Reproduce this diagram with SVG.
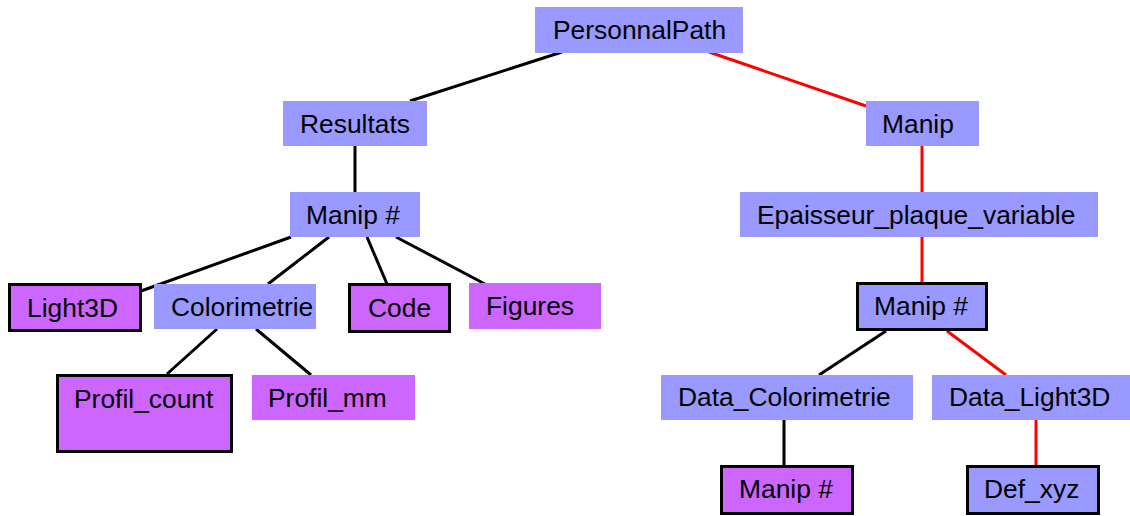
<svg xmlns="http://www.w3.org/2000/svg" width="1130" height="516" viewBox="0 0 1130 516">
<style>
.b{fill:#9999ff}
.p{fill:#cc66ff}
.k{stroke:#000;stroke-width:3}
.e{stroke-width:3;fill:none}
.e line.bk{stroke:#000}
.e line.rd{stroke:#ff0000}
text{font-family:"Liberation Sans",Arial,sans-serif;font-size:26.4px;fill:#000}
</style>
<rect width="1130" height="516" fill="#fff"/>
<g id="connectors" class="e">
<line class="bk" x1="562" y1="52" x2="410" y2="101"/>
<line class="rd" x1="709" y1="52" x2="866" y2="106"/>
<line class="bk" x1="355" y1="146" x2="355" y2="192"/>
<line class="rd" x1="922" y1="146" x2="922" y2="192"/>
<line class="rd" x1="922" y1="237" x2="922" y2="282"/>
<line class="bk" x1="291" y1="237" x2="141" y2="291"/>
<line class="bk" x1="329" y1="237" x2="268" y2="284"/>
<line class="bk" x1="367" y1="237" x2="387" y2="284"/>
<line class="bk" x1="396" y1="237" x2="485" y2="284"/>
<line class="bk" x1="217" y1="329" x2="167" y2="374"/>
<line class="bk" x1="256" y1="329" x2="311" y2="375"/>
<line class="bk" x1="886" y1="331" x2="819" y2="375"/>
<line class="rd" x1="947" y1="331" x2="1006" y2="375"/>
<line class="bk" x1="784" y1="420" x2="784" y2="465"/>
<line class="rd" x1="1036" y1="420" x2="1036" y2="465"/>
</g>
<g id="n-personnalpath"><rect class="b" x="535" y="7" width="208" height="46"/><text x="553" y="39">PersonnalPath</text></g>
<g id="n-resultats"><rect class="b" x="283" y="101" width="144" height="45"/><text x="300" y="133">Resultats</text></g>
<g id="n-manip"><rect class="b" x="866" y="101" width="113" height="45"/><text x="882" y="133">Manip</text></g>
<g id="n-manip-l"><rect class="b" x="290" y="192" width="130" height="45"/><text x="306" y="224">Manip #</text></g>
<g id="n-epaisseur"><rect class="b" x="740" y="192" width="358" height="45"/><text x="757" y="224">Epaisseur_plaque_variable</text></g>
<g id="n-light3d"><rect class="p k" x="9.5" y="284.5" width="131" height="46"/><text x="27" y="317">Light3D</text></g>
<g id="n-colorimetrie"><rect class="b" x="154" y="284" width="162" height="45"/><text x="171" y="316">Colorimetrie</text></g>
<g id="n-code"><rect class="p k" x="349.5" y="284.5" width="100" height="47"/><text x="368" y="317">Code</text></g>
<g id="n-figures"><rect class="p" x="469" y="283" width="132" height="46"/><text x="486" y="315">Figures</text></g>
<g id="n-manip-r"><rect class="b k" x="857.5" y="283.5" width="129" height="46"/><text x="874" y="315">Manip #</text></g>
<g id="n-profil-count"><rect class="p k" x="57.5" y="375.5" width="174" height="76"/><text x="74" y="408">Profil_count</text></g>
<g id="n-profil-mm"><rect class="p" x="252" y="375" width="163" height="45"/><text x="268" y="407">Profil_mm</text></g>
<g id="n-data-colorimetrie"><rect class="b" x="661" y="375" width="252" height="45"/><text x="678" y="406">Data_Colorimetrie</text></g>
<g id="n-data-light3d"><rect class="b" x="932" y="375" width="198" height="45"/><text x="949" y="406">Data_Light3D</text></g>
<g id="n-manip-p"><rect class="p k" x="721.5" y="466.5" width="131" height="47"/><text x="739" y="498">Manip #</text></g>
<g id="n-def-xyz"><rect class="b k" x="967.5" y="466.5" width="131" height="47"/><text x="984" y="498">Def_xyz</text></g>
</svg>
